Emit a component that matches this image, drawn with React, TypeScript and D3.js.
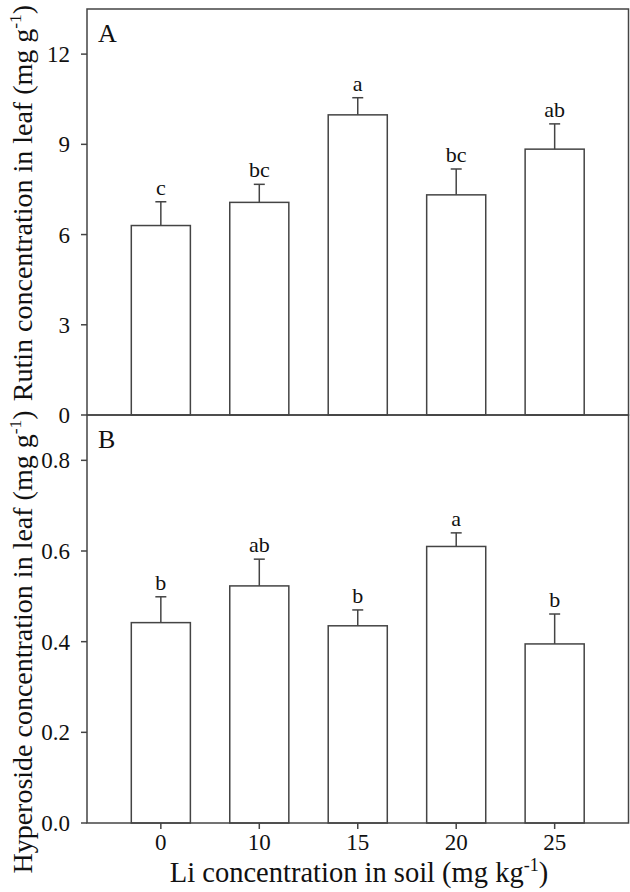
import React from "react";
import * as d3 from "d3";

const categories = ["0", "10", "15", "20", "25"];
const rutinMean = [6.3, 7.07, 9.98, 7.32, 8.84];
const rutinErr = [0.79, 0.6, 0.57, 0.86, 0.84];
const rutinLetters = ["c", "bc", "a", "bc", "ab"];
const hypMean = [0.442, 0.523, 0.435, 0.61, 0.395];
const hypErr = [0.057, 0.059, 0.035, 0.03, 0.066];
const hypLetters = ["b", "ab", "b", "a", "b"];
const rutinTicks = [0, 3, 6, 9, 12];
const hypTicks = [0, 0.2, 0.4, 0.6, 0.8];

const W = 630;
const H = 892;
const left = 87;
const right = 628.5;
const topA = 9;
const mid = 415;
const bottomB = 823;
const FONT = "'Liberation Serif', 'Times New Roman', Times, serif";
const AX = "#444";

function Panel({
  means,
  errs,
  letters,
  ticks,
  domainMax,
  y0,
  y1,
  label,
  fmt,
  x,
}: any) {
  const y = d3.scaleLinear().domain([0, domainMax]).range([y1, y0]);
  const bw = x.step() * 0.6;
  return (
    <g>
      {means.map((m: number, i: number) => {
        const cx = x(categories[i]);
        const top = y(m);
        const cap = y(m + errs[i]);
        return (
          <g key={i}>
            <rect
              x={cx - bw / 2}
              y={top}
              width={bw}
              height={y(0) - top}
              fill="white"
              stroke={AX}
              strokeWidth={1.5}
            />
            <line x1={cx} x2={cx} y1={top} y2={cap} stroke={AX} strokeWidth={1.5} />
            <line x1={cx - 5.5} x2={cx + 5.5} y1={cap} y2={cap} stroke={AX} strokeWidth={1.5} />
            <text
              x={cx}
              y={cap - 7}
              textAnchor="middle"
              fontFamily={FONT}
              fontSize={22}
              fill="#111"
            >
              {letters[i]}
            </text>
          </g>
        );
      })}
      <rect x={left} y={y0} width={right - left} height={y1 - y0} fill="none" stroke={AX} strokeWidth={1.5} />
      {ticks.map((t: number, i: number) => (
        <g key={i}>
          <line x1={left - 6} x2={left} y1={y(t)} y2={y(t)} stroke={AX} strokeWidth={1.5} />
          <text
            x={left - 17}
            y={y(t)}
            dy="0.35em"
            textAnchor="end"
            fontFamily={FONT}
            fontSize={23}
            fill="#111"
          >
            {fmt(t)}
          </text>
        </g>
      ))}
      <text x={left + 11} y={y0 + 33} fontFamily={FONT} fontSize={26} fill="#111">
        {label}
      </text>
    </g>
  );
}

export default function App() {
  const x = d3.scalePoint<string>().domain(categories).range([left, right]).padding(0.75);
  return (
    <svg width={W} height={H} style={{ position: "absolute", left: 0, top: 0, background: "white" }}>
      <Panel
        means={rutinMean}
        errs={rutinErr}
        letters={rutinLetters}
        ticks={rutinTicks}
        domainMax={13.5}
        y0={topA}
        y1={mid}
        label="A"
        fmt={(t: number) => String(t)}
        x={x}
      />
      <Panel
        means={hypMean}
        errs={hypErr}
        letters={hypLetters}
        ticks={hypTicks}
        domainMax={0.9}
        y0={mid}
        y1={bottomB}
        label="B"
        fmt={d3.format(".1f")}
        x={x}
      />
      {categories.map((c, i) => (
        <g key={i}>
          <line x1={x(c)} x2={x(c)} y1={bottomB} y2={bottomB + 6} stroke={AX} strokeWidth={1.5} />
          <text
            x={x(c)}
            y={bottomB + 27}
            textAnchor="middle"
            fontFamily={FONT}
            fontSize={23}
            fill="#111"
          >
            {c}
          </text>
        </g>
      ))}
      <text
        x={359}
        y={882}
        textAnchor="middle"
        fontFamily={FONT}
        fontSize={28.5}
        fill="#111"
      >
        Li concentration in soil (mg kg
        <tspan dy={-11} fontSize={18}>-1</tspan>
        <tspan dy={11}>)</tspan>
      </text>
      <text
        transform={`translate(32, 203) rotate(-90)`}
        textAnchor="middle"
        fontFamily={FONT}
        fontSize={28}
        fill="#111"
      >
        Rutin concentration in leaf (mg g
        <tspan dy={-11} fontSize={17.5}>-1</tspan>
        <tspan dy={11}>)</tspan>
      </text>
      <text
        transform={`translate(32, 642) rotate(-90)`}
        textAnchor="middle"
        fontFamily={FONT}
        fontSize={28}
        fill="#111"
      >
        Hyperoside concentration in leaf (mg g
        <tspan dy={-11} fontSize={17.5}>-1</tspan>
        <tspan dy={11}>)</tspan>
      </text>
    </svg>
  );
}
